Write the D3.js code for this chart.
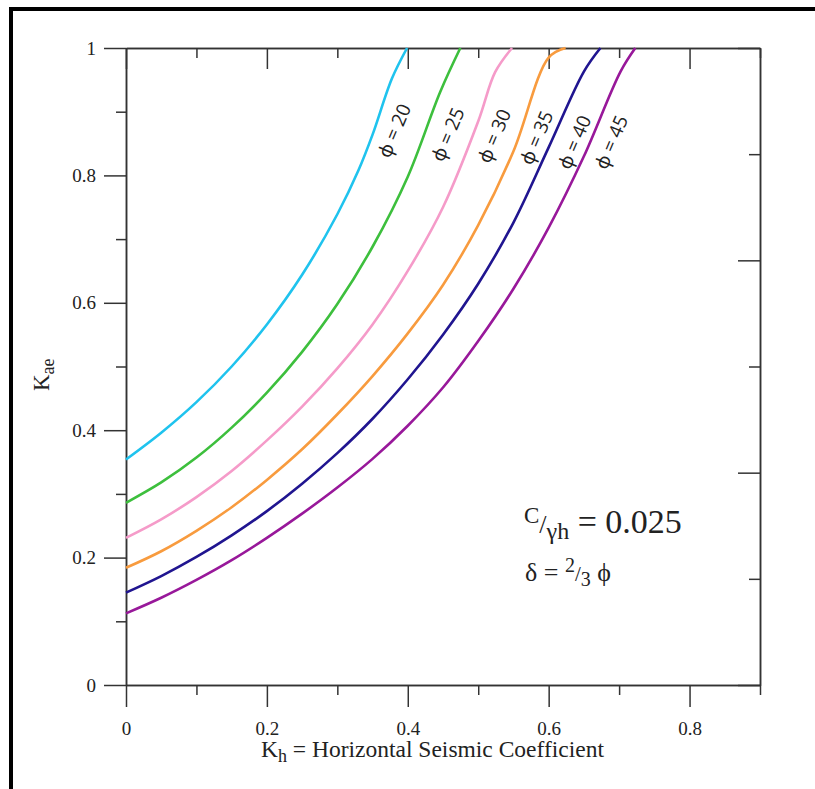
<!DOCTYPE html>
<html>
<head>
<meta charset="utf-8">
<script src="https://cdn.jsdelivr.net/npm/d3@7"></script>
<style>
  body { margin: 0; background: #fff; }
  svg { display: block; }
</style>
</head>
<body>
<div id="plot"></div>
<script>
// values: Kh along x, Kae along y, one pair of arrays per friction angle
const phiValues = [20, 25, 30, 35, 40, 45];
const phiNames = ["ϕ = 20", "ϕ = 25", "ϕ = 30", "ϕ = 35", "ϕ = 40", "ϕ = 45"];

const kh20 = [0, 0.05, 0.1, 0.15, 0.2, 0.25, 0.3, 0.33, 0.35, 0.3775, 0.399];
const kae20 = [0.354, 0.396, 0.444, 0.500, 0.566, 0.644, 0.739, 0.808, 0.864, 0.952, 1.0];

const kh25 = [0, 0.05, 0.1, 0.15, 0.2, 0.25, 0.3, 0.35, 0.4, 0.446, 0.4746];
const kae25 = [0.286, 0.318, 0.357, 0.404, 0.459, 0.523, 0.598, 0.688, 0.798, 0.931, 1.0];

const kh30 = [0, 0.05, 0.1, 0.15, 0.2, 0.25, 0.3, 0.35, 0.4, 0.45, 0.5, 0.524, 0.548];
const kae30 = [0.231, 0.260, 0.295, 0.336, 0.384, 0.437, 0.497, 0.566, 0.650, 0.750, 0.885, 0.962, 1.0];

const kh35 = [0, 0.05, 0.1, 0.15, 0.2, 0.25, 0.3, 0.35, 0.4, 0.45, 0.5, 0.55, 0.6, 0.624];
const kae35 = [0.184, 0.210, 0.242, 0.279, 0.322, 0.370, 0.425, 0.485, 0.552, 0.628, 0.722, 0.838, 0.985, 1.0];

const kh40 = [0, 0.05, 0.1, 0.15, 0.2, 0.25, 0.3, 0.35, 0.4, 0.45, 0.5, 0.55, 0.6, 0.65, 0.6735];
const kae40 = [0.145, 0.171, 0.201, 0.235, 0.273, 0.316, 0.364, 0.418, 0.480, 0.550, 0.630, 0.726, 0.844, 0.963, 1.0];

const kh45 = [0, 0.05, 0.1, 0.15, 0.2, 0.25, 0.3, 0.35, 0.4, 0.45, 0.5, 0.55, 0.6, 0.65, 0.702, 0.723];
const kae45 = [0.1125, 0.137, 0.165, 0.196, 0.231, 0.269, 0.310, 0.355, 0.407, 0.467, 0.540, 0.622, 0.718, 0.830, 0.963, 1.0];

const xMajor = [0, 0.2, 0.4, 0.6, 0.8];
const xMinor = [0.1, 0.3, 0.5, 0.7, 0.9];
const yMajor = [0, 0.2, 0.4, 0.6, 0.8, 1];
const yMinor = [0.1, 0.3, 0.5, 0.7, 0.9];
const rightMajor = [0, 1, 2, 3];
const rightMinor = [0.5, 1.5, 2.5];

const colors = ["#1fc3ee", "#3dbf3d", "#f59bc9", "#f89b3e", "#201590", "#98189a"];

const w = 815;
const h = 789;
const margin = {top: 48, right: 55, bottom: 104, left: 126};
const innerWidth = w - margin.left - margin.right;
const innerHeight = h - margin.top - margin.bottom;
const serif = "'Liberation Serif', 'Times New Roman', serif";
const axisColor = "#333";

const svg = d3.select("div#plot")
    .append("svg")
    .attr("width", w)
    .attr("height", h);

svg.append("rect")
    .attr("width", w)
    .attr("height", h)
    .attr("fill", "#fff");

// thick outer frame (runs off the right and bottom edges)
svg.append("rect")
    .attr("x", 11)
    .attr("y", 9)
    .attr("width", 900)
    .attr("height", 900)
    .attr("fill", "none")
    .attr("stroke", "#000")
    .attr("stroke-width", 4);

const xScale = d3.scaleLinear()
    .domain([0, 0.9])
    .range([0, innerWidth]);

const yScale = d3.scaleLinear()
    .domain([0, 1])
    .range([innerHeight, 0]);

const yRight = d3.scaleLinear()
    .domain([0, 3])
    .range([innerHeight, 0]);

const plot = svg.append("g")
    .attr("transform", `translate(${margin.left}, ${margin.top})`);

function styleAxis(g) {
  g.selectAll("path, line").attr("stroke", axisColor).attr("stroke-width", 1.5);
  g.selectAll("text")
      .attr("fill", "#222")
      .style("font-family", serif)
      .style("font-size", "19px");
}

// bottom axis
plot.append("g")
    .attr("transform", `translate(0, ${innerHeight})`)
    .call(d3.axisBottom(xScale).tickValues(xMajor).tickSize(22).tickSizeOuter(0)
        .tickFormat(d => d === 0 ? "0" : d3.format(".1f")(d)).tickPadding(15))
    .call(styleAxis);
plot.append("g")
    .attr("transform", `translate(0, ${innerHeight})`)
    .call(d3.axisBottom(xScale).tickValues(xMinor).tickSize(10).tickSizeOuter(0).tickFormat(""))
    .call(styleAxis);

// top axis, ticks pointing in
plot.append("g")
    .call(d3.axisTop(xScale).tickValues(xMajor).tickSize(-21).tickSizeOuter(0).tickFormat(""))
    .call(styleAxis);
plot.append("g")
    .call(d3.axisTop(xScale).tickValues(xMinor).tickSize(-10).tickSizeOuter(0).tickFormat(""))
    .call(styleAxis);

// left axis
plot.append("g")
    .call(d3.axisLeft(yScale).tickValues(yMajor).tickSize(22).tickSizeOuter(0)
        .tickFormat(d => (d === 0 || d === 1) ? String(d) : d3.format(".1f")(d)).tickPadding(8))
    .call(styleAxis);
plot.append("g")
    .call(d3.axisLeft(yScale).tickValues(yMinor).tickSize(10).tickSizeOuter(0).tickFormat(""))
    .call(styleAxis);

// right axis, unlabelled, ticks pointing in
plot.append("g")
    .attr("transform", `translate(${innerWidth}, 0)`)
    .call(d3.axisRight(yRight).tickValues(rightMajor).tickSize(-22).tickSizeOuter(0).tickFormat(""))
    .call(styleAxis);
plot.append("g")
    .attr("transform", `translate(${innerWidth}, 0)`)
    .call(d3.axisRight(yRight).tickValues(rightMinor).tickSize(-11).tickSizeOuter(0).tickFormat(""))
    .call(styleAxis);

// curves
const series = [
  {kh: kh20, kae: kae20},
  {kh: kh25, kae: kae25},
  {kh: kh30, kae: kae30},
  {kh: kh35, kae: kae35},
  {kh: kh40, kae: kae40},
  {kh: kh45, kae: kae45}
];

const line = d3.line()
    .x(d => xScale(d[0]))
    .y(d => yScale(d[1]))
    .curve(d3.curveCatmullRom.alpha(0.5));

series.forEach((s, i) => {
  plot.append("path")
      .datum(s.kh.map((k, j) => [k, s.kae[j]]))
      .attr("fill", "none")
      .attr("stroke", colors[i])
      .attr("stroke-width", 2.6)
      .attr("stroke-linejoin", "round")
      .attr("d", line);
});

// rotated curve labels (position in data units)
const labelX = [0.381, 0.457, 0.523, 0.583, 0.637, 0.689];
const labelY = [0.870, 0.864, 0.862, 0.859, 0.852, 0.852];

phiNames.forEach((name, i) => {
  plot.append("text")
      .attr("transform", `translate(${xScale(labelX[i])}, ${yScale(labelY[i])}) rotate(-67)`)
      .attr("text-anchor", "middle")
      .attr("dy", "0.35em")
      .attr("fill", "#222")
      .style("font-family", "'Open Sans', 'Noto Sans', sans-serif")
      .style("font-size", "19px")
      .text(name);
});

// axis titles
const xTitle = svg.append("text")
    .attr("x", 261)
    .attr("y", 757)
    .attr("fill", "#222")
    .style("font-family", serif)
    .style("font-size", "23.5px");
xTitle.append("tspan").text("K");
xTitle.append("tspan").attr("dy", 5).style("font-size", "18px").text("h");
xTitle.append("tspan").attr("dy", -5).text(" = Horizontal Seismic Coefficient");

const yTitle = svg.append("text")
    .attr("transform", "translate(49, 391) rotate(-90)")
    .attr("fill", "#222")
    .style("font-family", serif)
    .style("font-size", "23px");
yTitle.append("tspan").text("K");
yTitle.append("tspan").attr("dy", 5).style("font-size", "18px").text("ae");

// note in the plot
const note1 = svg.append("text")
    .attr("x", 524)
    .attr("y", 533)
    .attr("fill", "#222")
    .style("font-family", serif)
    .style("font-size", "34px");
note1.append("tspan").attr("dy", -10).style("font-size", "23px").text("C");
note1.append("tspan").attr("dy", 10).style("font-size", "26px").text("/");
note1.append("tspan").attr("dy", 6).style("font-size", "24px").text("γh");
note1.append("tspan").attr("dy", -6).text(" = 0.025");

const note2 = svg.append("text")
    .attr("x", 525)
    .attr("y", 581)
    .attr("fill", "#222")
    .style("font-family", serif)
    .style("font-size", "26px");
note2.append("tspan").text("δ = ");
note2.append("tspan").attr("dy", -9).style("font-size", "20px").text("2");
note2.append("tspan").attr("dy", 9).style("font-size", "21px").text("/");
note2.append("tspan").attr("dy", 5).style("font-size", "20px").text("3");
note2.append("tspan").attr("dy", -5).text(" ϕ");
</script>
</body>
</html>
